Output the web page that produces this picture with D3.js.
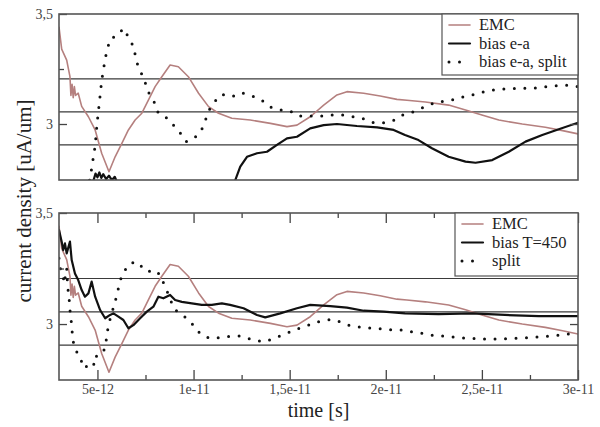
<!DOCTYPE html>
<html>
<head>
<meta charset="utf-8">
<script src="https://cdn.jsdelivr.net/npm/d3@7"></script>
<style>
body { margin:0; background:#fff; }
svg { display:block; }
svg text { font-family:"Liberation Serif", "DejaVu Serif", serif; }
</style>
</head>
<body>
<div id="chart"></div>
<script>

// time in units of 1e-12 s, current density in uA/um
var emc = [[3.0,3.44],[3.14,3.34],[3.4,3.29],[3.57,3.215],[3.62,3.13],[3.68,3.18],[3.74,3.12],[3.8,3.17],[3.86,3.13],[4.0,3.14],[4.18,3.08],[4.53,3.033],[4.88,2.973],[5.22,2.867],[5.6,2.783],[5.92,2.851],[6.27,2.912],[6.61,2.973],[6.96,3.018],[7.31,3.049],[7.65,3.109],[8.0,3.17],[8.35,3.215],[8.78,3.268],[9.21,3.26],[9.73,3.215],[10.26,3.14],[10.78,3.079],[11.3,3.049],[11.99,3.026],[12.95,3.018],[14.0,3.003],[14.86,2.988],[15.38,2.995],[16.07,3.033],[16.77,3.086],[17.46,3.132],[17.98,3.147],[18.85,3.14],[19.71,3.127],[20.58,3.112],[21.1,3.108],[22.06,3.1],[23.27,3.086],[24.15,3.064],[25.0,3.041],[25.88,3.018],[27.1,3.0],[28.3,2.985],[29.2,2.97],[30,2.955]];

var biasEa = [[4.6,2.6],[4.8,2.745],[4.9,2.775],[5.0,2.758],[5.1,2.78],[5.2,2.755],[5.3,2.772],[5.45,2.75],[5.6,2.765],[5.75,2.745],[5.9,2.76],[6.0,2.74],[6.3,2.6],[11.9,2.6],[12.17,2.745],[12.43,2.806],[12.78,2.851],[13.3,2.867],[13.82,2.874],[14.34,2.905],[14.86,2.935],[15.38,2.942],[16.07,2.98],[16.77,2.995],[17.46,3.0],[18.5,2.991],[19.55,2.985],[20.41,2.973],[21.0,2.95],[21.7,2.927],[22.4,2.89],[23.27,2.851],[24.15,2.829],[24.67,2.824],[25.54,2.836],[26.4,2.874],[27.27,2.92],[28.14,2.95],[29.0,2.976],[30,3.006]];

var biasEaSplit = [[4.4,2.65],[4.7,2.798],[4.79,2.851],[4.88,2.9],[4.98,3.003],[5.1,3.097],[5.22,3.197],[5.4,3.295],[5.52,3.344],[5.69,3.39],[6.04,3.401],[6.35,3.435],[6.65,3.39],[6.9,3.347],[7.0,3.294],[7.17,3.249],[7.44,3.205],[7.58,3.155],[7.93,3.105],[8.17,3.049],[8.57,3.03],[8.95,2.995],[9.3,2.96],[9.61,2.92],[9.96,2.93],[10.38,2.965],[10.6,3.014],[10.81,3.064],[11.09,3.101],[11.47,3.135],[12.0,3.124],[12.5,3.142],[13.04,3.127],[13.5,3.112],[13.95,3.079],[14.47,3.064],[14.99,3.061],[15.51,3.036],[16.07,3.036],[16.68,3.036],[17.2,3.041],[17.77,3.041],[18.33,3.033],[18.85,3.024],[19.37,3.006],[19.93,3.006],[20.45,3.018],[20.93,3.044],[21.45,3.056],[21.97,3.076],[22.55,3.097],[23.1,3.105],[23.63,3.112],[24.18,3.127],[24.7,3.136],[25.28,3.151],[25.85,3.158],[26.4,3.16],[27.0,3.162],[27.6,3.162],[28.14,3.167],[28.69,3.173],[29.27,3.177],[30,3.17]];

var biasT450 = [[3.0,3.423],[3.14,3.371],[3.22,3.333],[3.31,3.363],[3.4,3.318],[3.57,3.371],[3.66,3.288],[3.83,3.228],[4.0,3.198],[4.18,3.153],[4.35,3.123],[4.53,3.138],[4.7,3.191],[4.88,3.123],[5.14,3.063],[5.4,3.026],[5.66,3.041],[5.83,3.048],[6.09,3.033],[6.35,3.018],[6.61,2.981],[6.87,2.995],[7.22,3.026],[7.57,3.056],[7.91,3.078],[8.17,3.123],[8.43,3.116],[8.78,3.131],[9.04,3.108],[9.39,3.1],[9.91,3.093],[10.43,3.086],[10.95,3.086],[11.47,3.093],[11.9,3.086],[12.6,3.071],[13.3,3.041],[13.73,3.03],[14.51,3.048],[15.38,3.071],[16.07,3.086],[17.11,3.081],[17.98,3.074],[18.85,3.06],[19.89,3.056],[21.0,3.048],[22.75,3.045],[24.5,3.048],[26.2,3.041],[27.96,3.036],[30,3.036]];

var split = [[3.0,3.296],[3.1,3.236],[3.22,3.213],[3.27,3.183],[3.4,3.251],[3.45,3.168],[3.52,3.123],[3.57,3.063],[3.66,2.995],[3.71,2.935],[3.83,2.883],[4.0,2.868],[4.18,2.83],[4.35,2.8],[4.6,2.83],[4.88,2.815],[4.96,2.86],[5.22,2.868],[5.4,2.89],[5.48,2.943],[5.57,2.995],[5.74,3.048],[5.92,3.1],[6.09,3.161],[6.27,3.221],[6.44,3.243],[6.7,3.273],[7.05,3.281],[7.31,3.258],[7.57,3.236],[8.0,3.243],[8.26,3.221],[8.52,3.168],[8.78,3.116],[8.95,3.071],[9.3,3.048],[9.65,3.026],[9.91,3.003],[10.17,2.973],[10.43,2.95],[10.86,2.935],[11.3,2.938],[11.73,2.943],[12.43,2.946],[12.86,2.935],[13.3,2.925],[13.73,2.92],[14.16,2.935],[14.6,2.95],[15.03,2.965],[15.46,2.98],[15.9,2.992],[16.33,3.008],[16.77,3.015],[17.2,3.021],[17.64,3.01],[18.07,2.995],[18.5,2.988],[19.03,2.983],[19.55,2.98],[20.41,2.973],[20.85,2.973],[21.37,2.965],[21.89,2.958],[22.41,2.95],[22.93,2.946],[23.63,2.94],[24.5,2.935],[25.54,2.932],[26.58,2.935],[27.62,2.94],[28.66,2.946],[29.53,2.955],[30,2.958]];

var refLines = [3.205, 3.055, 2.905];

var xTicks = [5, 10, 15, 20, 25, 30];
var xTickLabels = ['5e-12', '1e-11', '1,5e-11', '2e-11', '2,5e-11', '3e-11'];
var xMinorTicks = [7.5, 12.5, 17.5, 22.5, 27.5];
var yTicks = [3, 3.5];
var yTickLabels = ['3', '3,5'];
var yMinorTicks = [3.25];

var topLegend = ['EMC', 'bias e-a', 'bias e-a, split'];
var bottomLegend = ['EMC', 'bias T=450', 'split'];

var W = 600, H = 427;
var left = 59, right = 578;
var pink = '#b5807f', ink = '#111';
var serif = '"Liberation Serif", "DejaVu Serif", serif';

var styles = [
	{stroke: pink, width: 1.6, dash: null},
	{stroke: ink, width: 2.2, dash: null},
	{stroke: ink, width: 3, dash: '0,10.5'}
];

var panels = [
	{top: 14, bottom: 180, lo: 2.7455, series: [emc, biasEa, biasEaSplit], legend: topLegend,
	 box: {x: 442, y: 14, w: 136, h: 61}, xAxis: false},
	{top: 213, bottom: 380, lo: 2.748, series: [emc, biasT450, split], legend: bottomLegend,
	 box: {x: 455, y: 213, w: 123, h: 63}, xAxis: true}
];

var svg = d3.select('#chart').append('svg')
	.attr('width', W)
	.attr('height', H);

svg.append('rect').attr('width', W).attr('height', H).attr('fill', '#fff');

var x = d3.scaleLinear().domain([3, 30]).range([left, right]);

panels.forEach(function(p, pi) {
	var y = d3.scaleLinear().domain([p.lo, 3.5]).range([p.bottom, p.top]);
	var g = svg.append('g');

	var clipId = 'clip' + pi;
	svg.append('clipPath').attr('id', clipId)
		.append('rect')
		.attr('x', left).attr('y', p.top)
		.attr('width', right - left).attr('height', p.bottom - p.top);

	// horizontal reference lines
	g.selectAll('.ref')
		.data(refLines)
		.enter().append('line')
		.attr('x1', left).attr('x2', right)
		.attr('y1', function(d) { return y(d); })
		.attr('y2', function(d) { return y(d); })
		.attr('stroke', '#3a3a3a')
		.attr('stroke-width', 1.2);

	var line = d3.line()
		.x(function(d) { return x(d[0]); })
		.y(function(d) { return y(d[1]); });

	var lines = g.append('g').attr('clip-path', 'url(#' + clipId + ')');
	p.series.forEach(function(s, i) {
		var st = styles[i];
		lines.append('path')
			.attr('d', line(s))
			.attr('fill', 'none')
			.attr('stroke', st.stroke)
			.attr('stroke-width', st.width)
			.attr('stroke-linecap', 'round')
			.attr('stroke-linejoin', 'round')
			.attr('stroke-dasharray', st.dash);
	});

	// y axes, ticks pointing inward
	g.append('g').attr('class', 'ax').attr('transform', 'translate(' + left + ',0)')
		.call(d3.axisLeft(y).tickValues(yTicks)
			.tickFormat(function(d, i) { return yTickLabels[i]; })
			.tickSize(-8).tickPadding(6));
	g.append('g').attr('class', 'ax').attr('transform', 'translate(' + left + ',0)')
		.call(d3.axisLeft(y).tickValues(yMinorTicks).tickFormat('').tickSize(-5));
	g.append('g').attr('class', 'ax').attr('transform', 'translate(' + right + ',0)')
		.call(d3.axisRight(y).tickValues(yTicks).tickFormat('').tickSize(-8));

	if (p.xAxis) {
		g.append('g').attr('class', 'ax').attr('transform', 'translate(0,' + p.bottom + ')')
			.call(d3.axisBottom(x).tickValues(xTicks)
				.tickFormat(function(d, i) { return xTickLabels[i]; })
				.tickSize(-10).tickPadding(4));
		g.append('g').attr('class', 'ax').attr('transform', 'translate(0,' + p.bottom + ')')
			.call(d3.axisBottom(x).tickValues(xMinorTicks).tickFormat('').tickSize(-5));
		g.append('g').attr('class', 'ax').attr('transform', 'translate(0,' + p.top + ')')
			.call(d3.axisTop(x).tickValues(xTicks).tickFormat('').tickSize(-10));
		g.append('g').attr('class', 'ax').attr('transform', 'translate(0,' + p.top + ')')
			.call(d3.axisTop(x).tickValues(xMinorTicks).tickFormat('').tickSize(-5));
	}

	g.selectAll('.ax').attr('font-family', null).attr('font-size', null);
	g.selectAll('.domain').remove();
	g.selectAll('.tick line').attr('stroke', '#444').attr('stroke-width', 1.3);
	g.selectAll('.tick text')
		.style('font-family', serif)
		.style('font-size', '14px')
		.attr('fill', '#444');

	// frame
	g.append('rect')
		.attr('x', left).attr('y', p.top)
		.attr('width', right - left).attr('height', p.bottom - p.top)
		.attr('fill', 'none')
		.attr('stroke', '#555')
		.attr('stroke-width', 1.6);

	// legend
	var b = p.box;
	var lg = g.append('g');
	lg.append('rect')
		.attr('x', b.x).attr('y', b.y)
		.attr('width', b.w).attr('height', b.h)
		.attr('fill', '#fff')
		.attr('stroke', '#555')
		.attr('stroke-width', 1.2);
	p.legend.forEach(function(name, i) {
		var st = styles[i];
		var ly = b.y + 11 + i * 18.5;
		lg.append('line')
			.attr('x1', b.x + 7).attr('x2', b.x + 28)
			.attr('y1', ly).attr('y2', ly)
			.attr('stroke', st.stroke)
			.attr('stroke-width', st.width)
			.attr('stroke-linecap', 'round')
			.attr('stroke-dasharray', st.dash ? '0,10.5' : null);
		lg.append('text')
			.attr('x', b.x + 37).attr('y', ly)
			.attr('dy', '0.33em')
			.style('font-family', serif)
			.style('font-size', '16.5px')
			.attr('fill', '#222')
			.text(name);
	});
});

// axis titles
svg.append('text')
	.attr('transform', 'translate(31,201) rotate(-90)')
	.attr('text-anchor', 'middle')
	.style('font-family', serif)
	.style('font-size', '21px')
	.attr('fill', '#222')
	.text('current density [uA/um]');

svg.append('text')
	.attr('x', (left + right) / 2)
	.attr('y', 417)
	.attr('text-anchor', 'middle')
	.style('font-family', serif)
	.style('font-size', '20px')
	.attr('fill', '#222')
	.text('time [s]');

</script>
</body>
</html>
